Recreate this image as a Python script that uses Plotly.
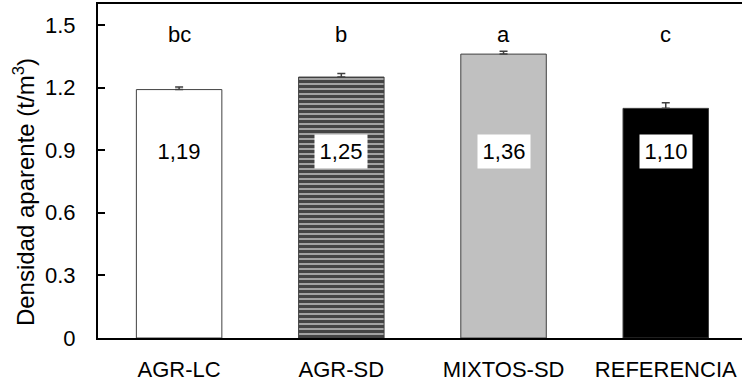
import plotly.graph_objects as go

categories = ["AGR-LC", "AGR-SD", "MIXTOS-SD", "REFERENCIA"]
values = [1.19, 1.25, 1.36, 1.10]
errors = [0.012, 0.017, 0.014, 0.027]
value_labels = ["1,19", "1,25", "1,36", "1,10"]
letters = ["bc", "b", "a", "c"]
y_ticks = [0, 0.3, 0.6, 0.9, 1.2, 1.5]
y_tick_labels = ["0", "0.3", "0.6", "0.9", "1.2", "1.5"]

FONT = "Liberation Sans, Arial, sans-serif"
x_idx = list(range(len(categories)))

fig = go.Figure()
fills = ["white", "white", "#c0c0c0", "black"]
patterns = ["", "-", "", ""]
fig.add_trace(go.Bar(
    x=x_idx, y=values, width=0.527,
    marker=dict(
        color=fills,
        line=dict(color="#404040", width=1),
        pattern=dict(shape=patterns, fgcolor="black", bgcolor="white",
                     size=5, solidity=0.8, fgopacity=1),
    ),
    error_y=dict(type="data", array=errors, arrayminus=[0]*len(errors), symmetric=False,
                 color="#404040", thickness=1.5, width=4),
    showlegend=False,
))

annotations = []
for i, (lab, let) in enumerate(zip(value_labels, letters)):
    annotations.append(dict(x=i, y=0.894, xref="x", yref="y", text=lab, showarrow=False,
                            font=dict(family=FONT, size=22, color="black"),
                            bgcolor="white", width=52, height=33, borderpad=0,
                            xanchor="center", yanchor="middle"))
    annotations.append(dict(x=i, y=1.455, xref="x", yref="y", text=let, showarrow=False,
                            font=dict(family=FONT, size=22, color="black"),
                            xanchor="center", yanchor="middle"))
annotations.append(dict(x=-0.115, y=0.4366, xref="paper", yref="paper",
                        text="Densidad aparente (t/m<sup>3</sup>)", textangle=-90,
                        showarrow=False, font=dict(family=FONT, size=24, color="black"),
                        xanchor="center", yanchor="middle"))

fig.update_layout(
    width=742, height=382,
    margin=dict(l=98, r=0, t=4, b=39),
    paper_bgcolor="white", plot_bgcolor="white",
    font=dict(family=FONT, size=22, color="black"),
    annotations=annotations,
    xaxis=dict(range=[-0.5, 3.47], tickvals=x_idx, ticktext=categories,
               showline=True, linecolor="black", linewidth=2, mirror=True,
               showgrid=False, zeroline=False, ticks="", ticklabelstandoff=11,
               tickfont=dict(family=FONT, size=22, color="black")),
    yaxis=dict(range=[0, 1.6], tickvals=y_ticks, ticktext=y_tick_labels,
               showline=True, linecolor="black", linewidth=2,
               showgrid=False, zeroline=False, ticks="inside", ticklen=7, tickwidth=2,
               tickcolor="black", ticklabelstandoff=16,
               tickfont=dict(family=FONT, size=22, color="black")),
)

fig.write_html("out.html")
